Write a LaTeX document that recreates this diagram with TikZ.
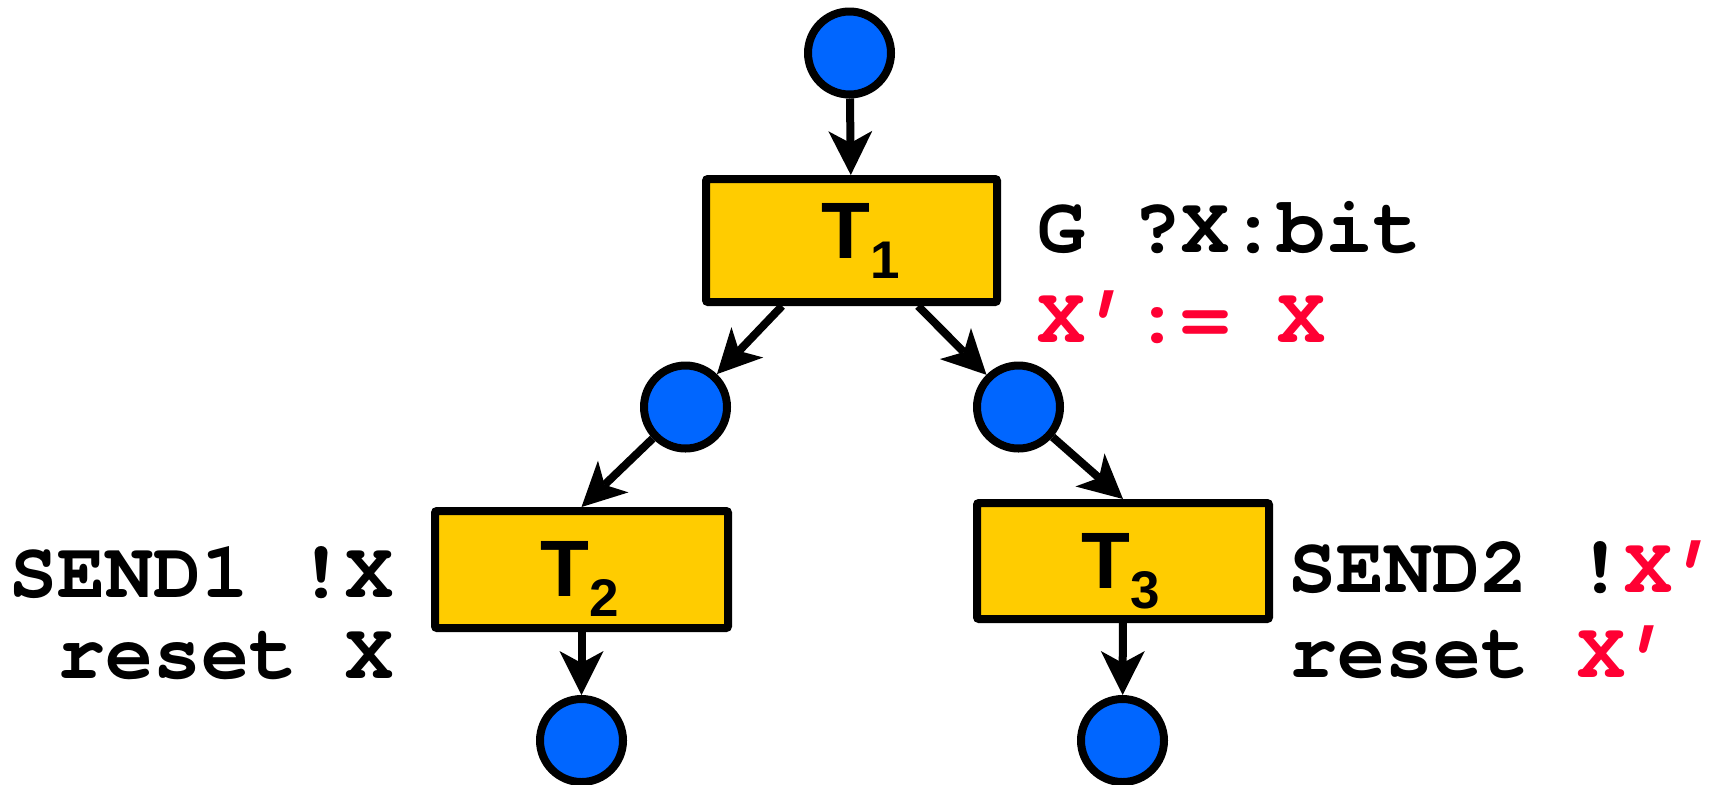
\documentclass[tikz,border=0pt]{standalone}
\usepackage{fontspec}
\setmainfont{Liberation Sans}
\setmonofont{TeX Gyre Cursor}
\usetikzlibrary{arrows.meta}
\definecolor{tyellow}{RGB}{255,204,0}
\definecolor{pblue}{RGB}{0,102,255}
\definecolor{xred}{RGB}{255,0,51}
\begin{document}
\begin{tikzpicture}[x=0.5pt,y=-0.5pt,
  place/.style={circle,draw=black,fill=pblue,line width=4pt,minimum size=41.5pt,inner sep=0pt},
  trans/.style={rectangle,draw=black,fill=tyellow,line width=4pt,inner sep=0pt,rounded corners=1pt},
  arc/.style={line width=4pt,-{Stealth[length=22pt,width=22pt,inset=6pt,line width=0pt]}},
  tlabel/.style={anchor=base west,inner sep=0pt,font=\fontsize{40pt}{40pt}\selectfont\bfseries},
  code/.style={inner sep=0pt,font=\fontsize{40pt}{40pt}\selectfont\ttfamily\bfseries}
]
\useasboundingbox (0,0) rectangle (1712,784);
\fill[white] (0,0) rectangle (1712,784);

\node[place] (c0) at (849.5,53) {};
\node[trans,minimum width=145.5pt,minimum height=61.5pt] (T1) at (851.5,240.5) {};
\node[place] (cL) at (685.5,407) {};
\node[place] (cR) at (1018.5,407) {};
\node[trans,minimum width=146.5pt,minimum height=58.5pt] (T2) at (581.5,569.5) {};
\node[trans,minimum width=146pt,minimum height=58pt] (T3) at (1123,561) {};
\node[place] (bL) at (581.5,740.5) {};
\node[place] (bR) at (1122.5,740.5) {};

\coordinate (T1l) at ([xshift=-34.75pt]T1.south);
\coordinate (T1r) at ([xshift=33.25pt]T1.south);

\draw[arc] (c0) -- (T1);
\draw[arc] (T1l) -- (cL);
\draw[arc] (T1r) -- (cR);
\draw[arc] (cL) -- (T2.north);
\draw[arc] (cR) -- (T3.north);
\draw[arc] (T2) -- (bL);
\draw[arc] (T3) -- (bR);

\node[tlabel] (t1txt) at (821,258) {T\raisebox{-10pt}{\fontsize{26.5pt}{26.5pt}\selectfont 1}};
\node[tlabel] (t2txt) at (540,596) {T\raisebox{-10pt}{\fontsize{26.5pt}{26.5pt}\selectfont 2}};
\node[tlabel] (t3txt) at (1081,588) {T\raisebox{-10pt}{\fontsize{26.5pt}{26.5pt}\selectfont 3}};

\node[code,anchor=base west] (g) at (1037,252) {G ?X:bit};
\node[code,anchor=base west,text=xred] (xa) at (1037,342) {X’:= X};
\node[code,anchor=base east] (s1) at (394,597) {SEND1 !X};
\node[code,anchor=base east] (r1) at (394,678) {reset X};
\node[code,anchor=base west] (s2) at (1288,592) {SEND2 !\textcolor{xred}{X’}};
\node[code,anchor=base west] (r2) at (1289,677) {reset \textcolor{xred}{X’}};
\end{tikzpicture}
\end{document}
